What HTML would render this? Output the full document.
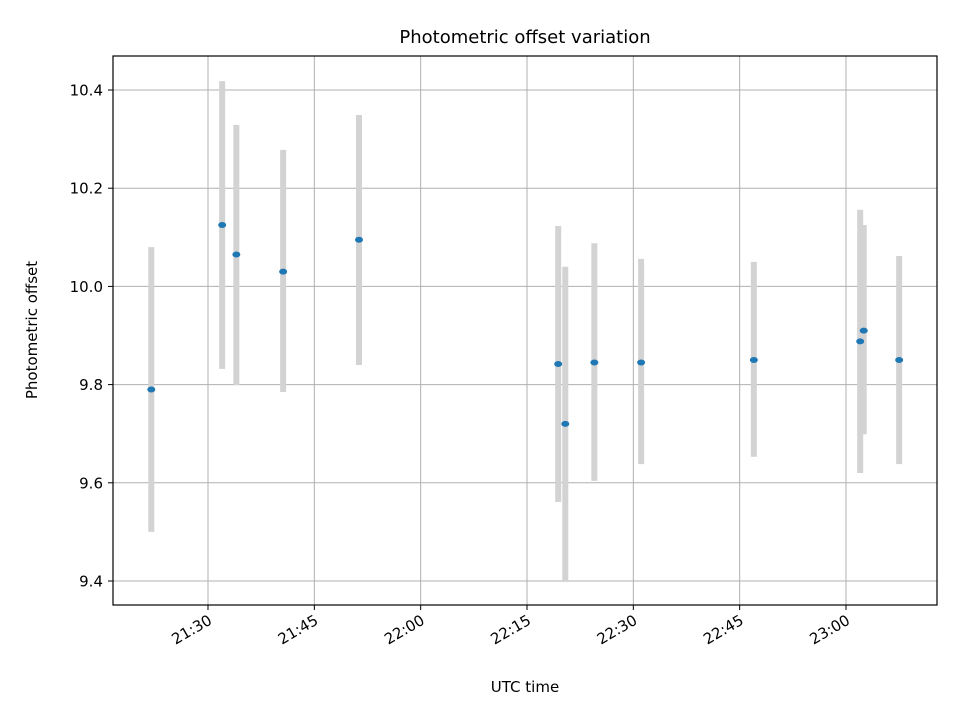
<!DOCTYPE html>
<html><head><meta charset="utf-8"><style>
body{margin:0;background:#fff;font-family:"Liberation Sans","DejaVu Sans",sans-serif;}
svg text{font-family:"DejaVu Sans","Liberation Sans",sans-serif;}
</style></head><body>
<svg id="chart" width="960" height="720" viewBox="0 0 960 720">
<rect width="960" height="720" fill="#fff"/>
<g id="grid"></g>
<g id="bars"></g>
<g id="pts"></g>
<rect x="113" y="56" width="824" height="549" fill="none" stroke="#000" stroke-width="1.2"/>
<g id="xt"></g>
<g id="yt"></g>
<text x="525" y="43" font-size="18" text-anchor="middle">Photometric offset variation</text>
<text x="525" y="692" font-size="15" text-anchor="middle">UTC time</text>
<text transform="translate(37,330) rotate(-90)" font-size="15" text-anchor="middle">Photometric offset</text>
</svg>
<script>
const times=["21:22","21:32","21:34","21:40.6","21:51.3","22:19.4","22:20.4","22:24.5","22:31.1","22:47","23:02","23:02.5","23:07.5"];
const values=[9.79,10.125,10.065,10.03,10.095,9.842,9.72,9.845,9.845,9.85,9.888,9.91,9.85];
const errHigh=[10.08,10.418,10.329,10.278,10.349,10.123,10.04,10.088,10.056,10.05,10.156,10.125,10.062];
const errLow=[9.50,9.832,9.799,9.785,9.84,9.561,9.40,9.604,9.638,9.653,9.62,9.699,9.638];
const xTicks=["21:30","21:45","22:00","22:15","22:30","22:45","23:00"];
const yTicks=[9.4,9.6,9.8,10.0,10.2,10.4];
const NS="http://www.w3.org/2000/svg";
function mins(t){const [h,m]=t.split(":");return (+h)*60+parseFloat(m);}
const x=t=>208+(mins(t)-mins("21:30"))*638/90;
const y=v=>90+(10.4-v)*491;
function mk(tag,attrs,parent){const e=document.createElementNS(NS,tag);for(const k in attrs)e.setAttribute(k,attrs[k]);document.getElementById(parent).appendChild(e);return e;}
xTicks.forEach(t=>{const X=x(t);
 const g=mk("line",{x1:X,x2:X,y1:56,y2:605,stroke:"#b0b0b0","stroke-width":1},"grid");
 
 
 const tk=mk("line",{x1:X,x2:X,y1:605,y2:610,stroke:"#000"},"xt");
 
 
 const tx=mk("text",{x:X+2,y:624,"font-size":15,"text-anchor":"end",transform:`rotate(-30 ${X+2} 618)`},"xt");
 tx.textContent=t;
 
 
});
yTicks.forEach(v=>{const Y=y(v);
 const g=mk("line",{x1:113,x2:937,y1:Y,y2:Y,stroke:"#b0b0b0","stroke-width":1},"grid");
 
 
 const tk=mk("line",{x1:108,x2:113,y1:Y,y2:Y,stroke:"#000"},"yt");
 
 
 const tx=mk("text",{x:103,y:Y+5.5,"font-size":15,"text-anchor":"end"},"yt");
 tx.textContent=v.toFixed(1);
 
 
});
times.forEach((t,i)=>{const X=x(t);
 const b=mk("line",{x1:X,x2:X,y1:y(errHigh[i]),y2:y(errLow[i]),stroke:"#d3d3d3","stroke-width":6},"bars");
 
 
});
times.forEach((t,i)=>{
 const p=mk("ellipse",{cx:x(t),cy:y(values[i]),rx:4,ry:3,fill:"#1f77b4"},"pts");
 
 
});
</script>
</body></html>
